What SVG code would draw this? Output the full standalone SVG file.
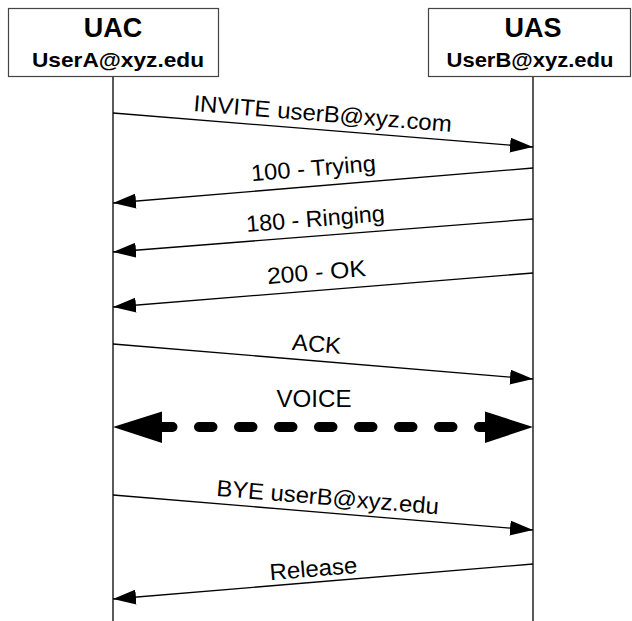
<svg xmlns="http://www.w3.org/2000/svg" width="632" height="621" viewBox="0 0 632 621">
<style>
.box{fill:#fff;stroke:#444;stroke-width:1.2}
.title{font-family:"Liberation Sans",Arial,sans-serif;font-weight:bold;font-size:27px;text-anchor:middle;fill:#000}
.sub{font-family:"Liberation Sans",Arial,sans-serif;font-weight:bold;font-size:21px;text-anchor:middle;fill:#000}
.life{stroke:#000;stroke-width:1.3;fill:none}
.msg{stroke:#000;stroke-width:1.3;fill:none;marker-end:url(#ah)}
.lbl{font-family:"Liberation Sans",Arial,sans-serif;font-size:23px;text-anchor:middle;fill:#000}
</style>
<defs>
<marker id="ah" markerUnits="userSpaceOnUse" viewBox="0 0 23 15" refX="23" refY="7.5" markerWidth="23" markerHeight="15" orient="auto">
<path d="M0,0 L23,7.5 L0,15 Z" fill="#000"/>
</marker>
</defs>
<rect width="632" height="621" fill="#fff"/>
<g id="uac">
<rect class="box" x="8.5" y="8.5" width="210" height="68"/>
<text class="title" x="113" y="37">UAC</text>
<text class="sub" x="118" y="67" textLength="172" lengthAdjust="spacingAndGlyphs">UserA@xyz.edu</text>
<line class="life" x1="113" y1="77" x2="113" y2="621"/>
</g>
<g id="uas">
<rect class="box" x="428.5" y="8.5" width="202" height="68"/>
<text class="title" x="533" y="37">UAS</text>
<text class="sub" x="530" y="67" textLength="167" lengthAdjust="spacingAndGlyphs">UserB@xyz.edu</text>
<line class="life" x1="533" y1="77" x2="533" y2="621"/>
</g>
<g id="connectors">
<line class="msg" x1="113" y1="113" x2="533" y2="147"/>
<text class="lbl" transform="translate(322,121.5) rotate(4.63)" textLength="259" lengthAdjust="spacingAndGlyphs">INVITE userB@xyz.com</text>
<line class="msg" x1="533" y1="168" x2="113" y2="203"/>
<text class="lbl" transform="translate(314,176) rotate(-4.76)" textLength="125" lengthAdjust="spacingAndGlyphs">100 - Trying</text>
<line class="msg" x1="533" y1="219" x2="113" y2="252"/>
<text class="lbl" transform="translate(316,226.5) rotate(-4.49)" textLength="139" lengthAdjust="spacingAndGlyphs">180 - Ringing</text>
<line class="msg" x1="533" y1="273" x2="113" y2="307"/>
<text class="lbl" transform="translate(317,280) rotate(-4.63)" textLength="99" lengthAdjust="spacingAndGlyphs">200 - OK</text>
<line class="msg" x1="113" y1="344" x2="533" y2="379"/>
<text class="lbl" transform="translate(316,351.7) rotate(4.76)" textLength="49" lengthAdjust="spacingAndGlyphs">ACK</text>
<text class="lbl" x="314" y="407" textLength="75" lengthAdjust="spacingAndGlyphs">VOICE</text>
<line x1="159" y1="427" x2="490" y2="427" stroke="#000" stroke-width="10" stroke-linecap="round" stroke-dasharray="13.5 26.5"/>
<polygon points="113,427 162,411.5 162,443" fill="#000"/>
<polygon points="533,427 485,411.5 485,443" fill="#000"/>
<line class="msg" x1="113" y1="495" x2="533" y2="530"/>
<text class="lbl" transform="translate(327,505) rotate(4.76)" textLength="223" lengthAdjust="spacingAndGlyphs">BYE userB@xyz.edu</text>
<line class="msg" x1="533" y1="564" x2="113" y2="599"/>
<text class="lbl" transform="translate(314,576.5) rotate(-4.76)" textLength="88" lengthAdjust="spacingAndGlyphs">Release</text>
</g>
</svg>
